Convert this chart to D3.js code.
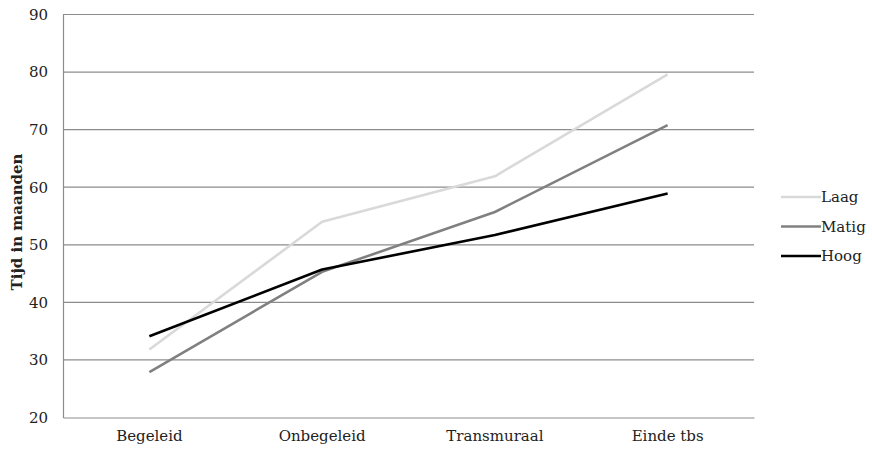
<!DOCTYPE html>
<html>
<head>
<meta charset="utf-8">
<script src="https://cdn.jsdelivr.net/npm/d3@7"></script>
<style>
  body { margin: 0; background: #fff; }
  svg { display: block; }
</style>
</head>
<body>
<svg id="chart" width="872" height="451" style="font-family: 'DejaVu Serif', serif;"></svg>
<script>
const categories = ["Begeleid", "Onbegeleid", "Transmuraal", "Einde tbs"];
const seriesNames = ["Laag", "Matig", "Hoog"];
const laag  = [31.8, 54.0, 61.9, 79.6];
const matig = [27.9, 45.3, 55.7, 70.8];
const hoog  = [34.1, 45.7, 51.7, 58.9];
const yTicks = [20, 30, 40, 50, 60, 70, 80, 90];
const colors = ["#d9d9d9", "#808080", "#000000"];

const series = [laag, matig, hoog].map((v, i) => ({ name: seriesNames[i], values: v, color: colors[i] }));

const FONT = "'DejaVu Serif', serif";
const FS = 15;
const svg = d3.select("#chart");
const m = { left: 63, right: 754, top: 14.5, bottom: 417.5 };

const x = d3.scaleBand().domain(categories).range([m.left, m.right]).paddingInner(0).paddingOuter(0);
const y = d3.scaleLinear().domain([20, 90]).range([m.bottom, m.top]);

// gridlines
svg.append("g").selectAll("line").data(yTicks.slice(1)).join("line")
  .attr("x1", m.left).attr("x2", m.right)
  .attr("y1", d => y(d)).attr("y2", d => y(d))
  .attr("stroke", "#8c8c8c").attr("stroke-width", 1.2);

// axes
const yAxis = svg.append("g").attr("transform", `translate(${m.left},0)`)
  .call(d3.axisLeft(y).tickValues(yTicks).tickSize(0).tickPadding(15));
yAxis.attr("font-family", FONT).attr("font-size", FS);
yAxis.select(".domain").attr("stroke", "#8c8c8c").attr("stroke-width", 1.2);
yAxis.selectAll("text").attr("fill", "#222");

const xAxis = svg.append("g").attr("transform", `translate(0,${m.bottom})`)
  .call(d3.axisBottom(x).tickSize(0).tickPadding(13));
xAxis.attr("font-family", FONT).attr("font-size", FS);
xAxis.select(".domain").attr("stroke", "#8c8c8c").attr("stroke-width", 1.2);
xAxis.selectAll("text").attr("fill", "#222");

// y label
svg.append("text")
  .attr("transform", `translate(22,${(m.top + m.bottom) / 2 + 6}) rotate(-90)`)
  .attr("text-anchor", "middle")
  .attr("font-family", FONT).attr("font-size", FS)
  .attr("font-weight", "bold").attr("fill", "#222")
  .text("Tijd in maanden");

// lines
const line = d3.line()
  .x((d, i) => x(categories[i]) + x.bandwidth() / 2)
  .y(d => y(d));

svg.append("g").selectAll("path").data(series).join("path")
  .attr("d", d => line(d.values))
  .attr("fill", "none")
  .attr("stroke", d => d.color)
  .attr("stroke-width", 2.6)
  .attr("stroke-linejoin", "round");

// legend
const lg = svg.append("g").attr("transform", "translate(781,197)");
const items = lg.selectAll("g").data(series).join("g")
  .attr("transform", (d, i) => `translate(0,${i * 29.5})`);
items.append("line").attr("x1", 0).attr("x2", 40).attr("y1", 0).attr("y2", 0)
  .attr("stroke", d => d.color).attr("stroke-width", 2.6);
items.append("text").attr("x", 40).attr("y", 5)
  .attr("font-family", FONT).attr("font-size", FS).attr("fill", "#222")
  .text(d => d.name);
</script>
</body>
</html>
